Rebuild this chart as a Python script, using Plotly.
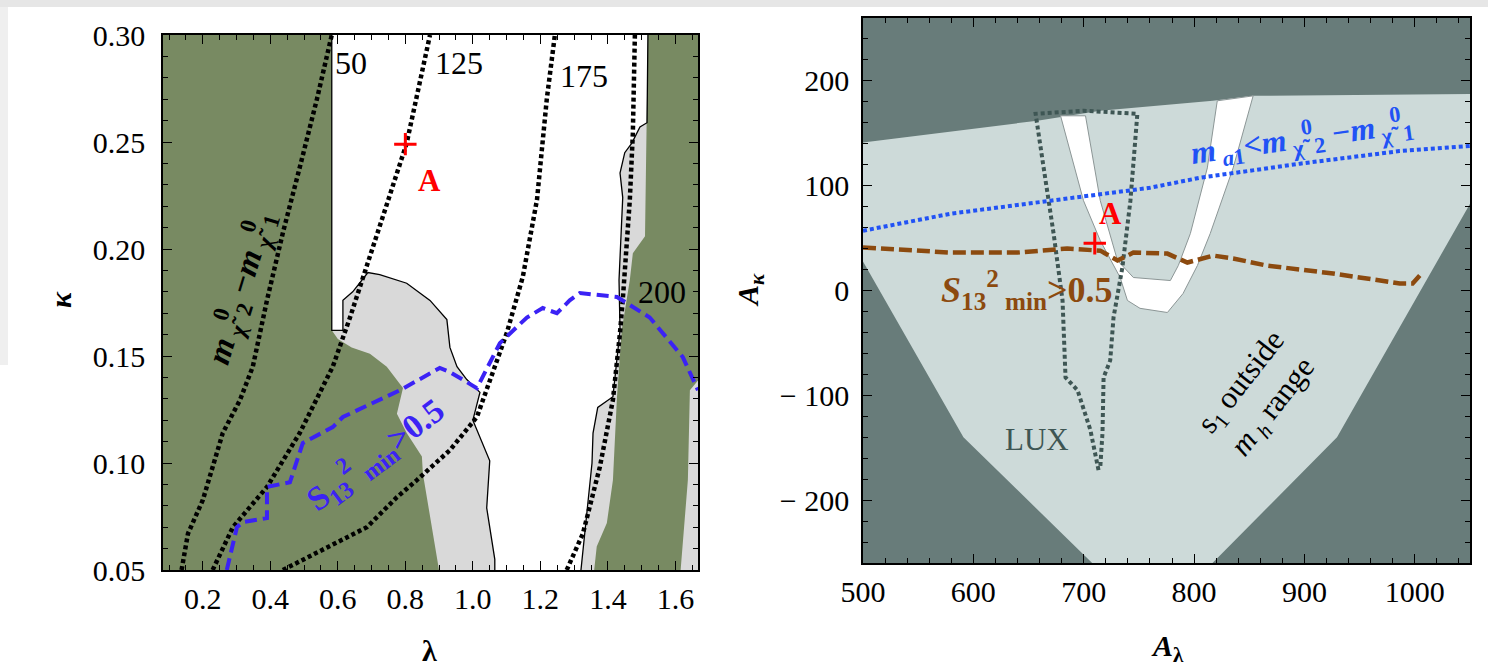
import plotly.graph_objects as go

# ---------------- left panel: kappa vs lambda ----------------
lam_range = [0.082, 1.667]
kap_range = [0.05, 0.30]

# excluded (green) region on the left
green_l_lam = [0.07, 0.582, 0.582, 0.600, 0.641, 0.695, 0.745, 0.793, 0.775, 0.804, 0.849, 0.852, 0.905, 0.07]
green_l_kap = [0.305, 0.305, 0.162, 0.158, 0.154, 0.151, 0.145, 0.135, 0.123, 0.114, 0.103, 0.095, 0.045, 0.045]

# boundary of the allowed (white) region, middle part
mid_edge_lam = [0.582, 0.582, 0.615, 0.615, 0.644, 0.689, 0.724, 0.804, 0.873, 0.923, 0.932, 0.953, 0.982, 1.021, 1.000, 1.050, 1.041, 1.065, 1.065]
mid_edge_kap = [0.305, 0.162, 0.162, 0.176, 0.180, 0.189, 0.188, 0.184, 0.176, 0.167, 0.154, 0.145, 0.139, 0.133, 0.120, 0.101, 0.079, 0.055, 0.045]

# boundary of the allowed (white) region, right part
right_edge_lam = [1.519, 1.516, 1.495, 1.471, 1.450, 1.436, 1.444, 1.439, 1.433, 1.436, 1.415, 1.370, 1.356, 1.353, 1.338, 1.317]
right_edge_kap = [0.305, 0.259, 0.257, 0.2495, 0.245, 0.2355, 0.224, 0.209, 0.1855, 0.162, 0.131, 0.126, 0.114, 0.100, 0.0766, 0.045]

# excluded (green) region on the right
green_r_lam = [1.519, 1.68, 1.68, 1.643, 1.637, 1.613, 1.356, 1.367, 1.397, 1.415, 1.427, 1.441, 1.465, 1.474, 1.510, 1.516, 1.519]
green_r_kap = [0.305, 0.305, 0.141, 0.134, 0.092, 0.045, 0.045, 0.061, 0.072, 0.092, 0.131, 0.162, 0.1855, 0.198, 0.206, 0.257, 0.305]

# m_chi2 - m_chi1 contours (GeV)
c50_lam = [0.137, 0.156, 0.200, 0.259, 0.310, 0.348, 0.390, 0.437, 0.487, 0.538, 0.582]
c50_kap = [0.05, 0.067, 0.0827, 0.114, 0.1294, 0.145, 0.176, 0.2075, 0.238, 0.270, 0.30]
c125_lam = [0.229, 0.289, 0.390, 0.487, 0.585, 0.636, 0.733, 0.804, 0.873]
c125_kap = [0.05, 0.070, 0.0888, 0.114, 0.145, 0.168, 0.215, 0.2495, 0.30]
c175_lam = [0.437, 0.567, 0.686, 0.775, 0.834, 0.932, 1.012, 1.101, 1.130, 1.148, 1.190, 1.219, 1.243]
c175_kap = [0.05, 0.0607, 0.070, 0.084, 0.092, 0.106, 0.1215, 0.161, 0.176, 0.187, 0.223, 0.270, 0.30]
c200_lam = [1.278, 1.326, 1.376, 1.415, 1.436, 1.444, 1.465, 1.474, 1.480]
c200_kap = [0.05, 0.067, 0.098, 0.1295, 0.161, 0.176, 0.223, 0.254, 0.30]
contour_labels = ["50", "125", "175", "200"]
contour_label_lam = [0.585, 0.881, 1.252, 1.483]
contour_label_kap = [0.287, 0.287, 0.281, 0.180]

# S13^2_min = 0.5 contour
s13_lam = [0.271, 0.301, 0.319, 0.390, 0.390, 0.458, 0.496, 0.585, 0.615, 0.784, 0.902, 0.932, 1.012, 1.080, 1.160, 1.207, 1.249, 1.287, 1.317, 1.427, 1.524, 1.622, 1.667]
s13_kap = [0.05, 0.070, 0.0724, 0.0743, 0.0888, 0.091, 0.1093, 0.1168, 0.1215, 0.134, 0.1444, 0.1425, 0.135, 0.156, 0.168, 0.1724, 0.170, 0.176, 0.1794, 0.1776, 0.168, 0.1495, 0.134]

point_a_left = (0.80, 0.249)

# ---------------- right panel: A_kappa vs A_lambda ----------------
al_range = [500, 1050]
ak_range = [-260, 260]

allowed_al = [495, 658, 715, 817, 853.5, 1055, 1055, 929.5, 812, 712.5, 591, 495]
allowed_ak = [140.6, 162, 171.4, 181, 185.7, 187.6, 92, -140, -265, -265, -140, 37]

band_al = [679, 692.6, 699.8, 715, 733, 739.6, 751, 775.8, 790, 803, 814.6, 835.4, 853.5,
           821, 812, 796.6, 785.7, 778.5, 745, 730.6, 715, 701.6, 679]
band_ak = [166.7, 114, 85.7, 47.6, 12.4, -9.5, -17, -21, -2.9, 23.8, 54.3, 117, 185.7,
           181, 117, 54.3, 23.8, 9.5, 12.4, 28.6, 85.7, 166.7, 166.7]

lux_al = [713.4, 706, 694.4, 683.5, 680.8, 672.7, 663.7, 656.4, 700, 748.6, 742.3, 735, 727, 724, 718, 717, 715]
lux_ak = [-171.4, -133, -95.2, -82.9, -9.5, 54.3, 117, 168.6, 171.5, 168.6, 85.7, 21.9, -25.7, -66.7, -82.9, -136, -168.6]

ma1_al = [500, 579.6, 670, 760, 805.6, 896, 986, 1050]
ma1_ak = [57, 73.3, 85.7, 98, 107.6, 121, 133, 138]

s13r_al = [500, 579.6, 640, 685, 715, 730.6, 745, 775.8, 793.9, 817.4, 835.4, 866, 926, 986.4, 998, 1004.5]
s13r_ak = [41, 36.2, 36.2, 40, 38, 28.6, 36.2, 35.2, 26.7, 33.3, 30.5, 23.8, 16.2, 6.7, 6.7, 14.3]

point_a_right = (710, 45)
ak_ticks = [-200, -100, 0, 100, 200]
ak_ticktext = ["\u2212 200", "\u2212 100", "0", "100", "200"]

# ---------------- colours ----------------
GREEN = "#788a62"
LGRAY = "#d9d9d9"
DARK = "#687c7a"
LIGHT = "#cddad9"
BLUE_L = "#3b22f5"
BLUE_R = "#2152f5"
BROWN = "#8c4a0f"
LUXC = "#3e5654"
FONT = "Liberation Serif"

fig = go.Figure()

def poly(x, y, color, xa="x", ya="y", line=None):
    fig.add_trace(go.Scatter(x=x, y=y, xaxis=xa, yaxis=ya, fill="toself", fillcolor=color,
                             mode="lines", line=line or dict(width=0, color=color),
                             hoverinfo="skip", showlegend=False))

def curve(x, y, color, width, dash, xa="x", ya="y"):
    fig.add_trace(go.Scatter(x=x, y=y, xaxis=xa, yaxis=ya, mode="lines",
                             line=dict(color=color, width=width, dash=dash),
                             hoverinfo="skip", showlegend=False))

# left panel fills
poly(mid_edge_lam[1:] + [0.5, 0.5], mid_edge_kap[1:] + [0.045, 0.162], LGRAY)
poly(right_edge_lam + [1.68, 1.68], right_edge_kap + [0.045, 0.305], LGRAY)
poly(green_l_lam, green_l_kap, GREEN)
poly(green_r_lam, green_r_kap, GREEN)
curve(mid_edge_lam, mid_edge_kap, "black", 1.3, "solid")
curve(right_edge_lam, right_edge_kap, "black", 1.3, "solid")
for cx, cy in [(c50_lam, c50_kap), (c125_lam, c125_kap), (c175_lam, c175_kap), (c200_lam, c200_kap)]:
    curve(cx, cy, "black", 4.5, "4px,3px")
curve(s13_lam, s13_kap, BLUE_L, 4, "12px,6px")
fig.add_trace(go.Scatter(x=[point_a_left[0]], y=[point_a_left[1]], mode="markers",
                         marker=dict(symbol="cross-thin", size=16, line=dict(color="red", width=3)),
                         hoverinfo="skip", showlegend=False))

# right panel fills
poly(allowed_al, allowed_ak, LIGHT, "x2", "y2")
poly(band_al, band_ak, "white", "x2", "y2", line=dict(color="#8c9696", width=1))
curve(lux_al, lux_ak, LUXC, 4, "4px,3px", "x2", "y2")
curve(ma1_al, ma1_ak, BLUE_R, 4, "4px,3px", "x2", "y2")
curve(s13r_al, s13r_ak, BROWN, 4.5, "13px,5px", "x2", "y2")
fig.add_trace(go.Scatter(x=[point_a_right[0]], y=[point_a_right[1]], mode="markers",
                         xaxis="x2", yaxis="y2",
                         marker=dict(symbol="cross-thin", size=16, line=dict(color="red", width=3)),
                         hoverinfo="skip", showlegend=False))

ann = []
def text(x, y, s, size=28, color="black", xr="x", yr="y", angle=0, xanchor="center", bold=False):
    ann.append(dict(x=x, y=y, xref=xr, yref=yr, text=s, showarrow=False, textangle=angle,
                    xanchor=xanchor, yanchor="middle",
                    font=dict(family=FONT, size=size, color=color,
                              weight="bold" if bold else "normal")))

for lab, lx, ly in zip(contour_labels, contour_label_lam, contour_label_kap):
    text(lx, ly, lab, size=32, xanchor="left")
text(0.873, 0.232, "A", size=31, color="red", bold=True)
text(0.31, 0.182, "<i>m</i><sub> \u03c7\u0303</sub><sup>0</sup><sub>2</sub> \u2212<i>m</i><sub> \u03c7\u0303</sub><sup>0</sup><sub>1</sub>",
     size=33, angle=-73, bold=True)
text(0.71, 0.104, "S<sub>13</sub><sup>2</sup><sub> min</sub>&gt;0.5", size=34, color=BLUE_L, angle=-37, bold=True)

text(724, 73, "A", size=31, color="red", xr="x2", yr="y2", bold=True)
text(649, 0, "<i>S</i><sub>13</sub><sup>2</sup><sub> min</sub>&gt;0.5", size=36, color=BROWN, xr="x2", yr="y2", bold=True)
text(898, 146, "<i>m</i><sub><i> a</i>1</sub>&lt;<i>m</i><sub> \u03c7\u0303</sub><sup>0</sup><sub>2</sub> \u2212<i>m</i><sub> \u03c7\u0303</sub><sup>0</sup><sub>1</sub>",
     size=32, color=BLUE_R, xr="x2", yr="y2", angle=-8, bold=True)
text(658, -142, "LUX", size=31, color=LUXC, xr="x2", yr="y2")
text(858, -100, "s<sub>1</sub> outside<br><i>m</i><sub> <i>h</i></sub> range", size=31, xr="x2", yr="y2", angle=-52)

# axis titles
text(60 / 1488, 1 - 300 / 666, "<b><i>\u03ba</i></b>", size=30, xr="paper", yr="paper", angle=-90)
text(429 / 1488, 1 - 650 / 666, "<b>\u03bb</b>", size=30, xr="paper", yr="paper")
text(750 / 1488, 1 - 290 / 666, "<b><i>A</i></b><sub><b><i>\u03ba</i></b></sub>", size=30, xr="paper", yr="paper", angle=-90)
text(1167 / 1488, 1 - 648 / 666, "<b><i>A</i></b><sub><b>\u03bb</b></sub>", size=30, xr="paper", yr="paper")

axis_common = dict(showline=True, linecolor="black", linewidth=1.6, mirror="allticks",
                   ticks="inside", ticklen=9, tickwidth=1.4, tickcolor="black",
                   showgrid=False, zeroline=False, automargin=False,
                   tickfont=dict(family=FONT, size=30, color="black"))

fig.update_layout(
    width=1488, height=666,
    margin=dict(l=0, r=0, t=0, b=0),
    paper_bgcolor="white", plot_bgcolor="white",
    showlegend=False,
    xaxis=dict(domain=[163 / 1488, 698 / 1488], range=lam_range, anchor="y",
               tick0=0, dtick=0.2, tickformat=".1f", ticklabelstandoff=1,
               minor=dict(dtick=0.05, ticks="inside", ticklen=5, tickcolor="black", tickwidth=1.2),
               **axis_common),
    yaxis=dict(domain=[1 - 570 / 666, 1 - 35 / 666], range=kap_range, anchor="x",
               tick0=0, dtick=0.05, tickformat=".2f", ticklabelstandoff=10,
               minor=dict(dtick=0.01, ticks="inside", ticklen=5, tickcolor="black", tickwidth=1.2),
               **axis_common),
    xaxis2=dict(domain=[863 / 1488, 1470 / 1488], range=al_range, anchor="y2",
                tick0=0, dtick=100, ticklabelstandoff=1,
                minor=dict(dtick=20, ticks="inside", ticklen=5, tickcolor="black", tickwidth=1.2),
                **axis_common),
    yaxis2=dict(domain=[1 - 563 / 666, 1 - 18 / 666], range=ak_range, anchor="x2",
                tickvals=ak_ticks, ticktext=ak_ticktext, ticklabelstandoff=6,
                minor=dict(dtick=20, ticks="inside", ticklen=5, tickcolor="black", tickwidth=1.2),
                **axis_common),
    annotations=ann,
    shapes=[
        dict(type="rect", xref="x2 domain", yref="y2 domain", x0=0, x1=1, y0=0, y1=1,
             fillcolor=DARK, line=dict(width=0), layer="below"),
        dict(type="rect", xref="paper", yref="paper", x0=0, x1=1, y0=1 - 7 / 666, y1=1,
             fillcolor="#e6e6e6", line=dict(width=0), layer="below"),
        dict(type="rect", xref="paper", yref="paper", x0=0, x1=8 / 1488, y0=1 - 365 / 666, y1=1 - 7 / 666,
             fillcolor="#efefef", line=dict(width=0), layer="below"),
    ],
)

fig.write_html("out.html")
